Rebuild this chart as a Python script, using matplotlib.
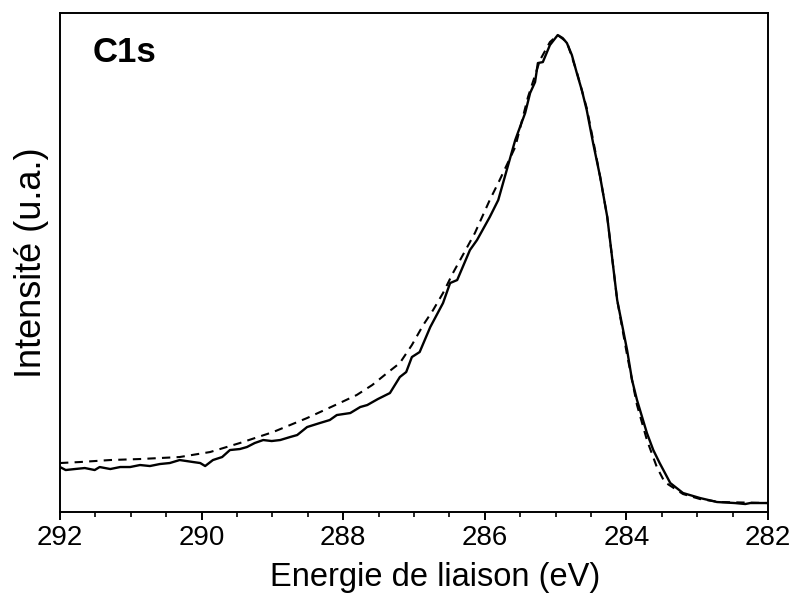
import matplotlib.pyplot as plt
from matplotlib.ticker import MultipleLocator

# binding energy (eV) and intensity (a.u.) of the measured C1s spectrum
energy_exp = [292.00, 291.92, 291.79, 291.65, 291.51, 291.44, 291.29, 291.15, 291.01, 290.87,
              290.73, 290.59, 290.45, 290.31, 290.12, 290.02, 289.95, 289.84, 289.71, 289.60,
              289.46, 289.36, 289.25, 289.13, 289.01, 288.89, 288.75, 288.65, 288.51, 288.33,
              288.19, 288.09, 287.90, 287.76, 287.66, 287.51, 287.34, 287.20, 287.11, 287.03,
              286.92, 286.77, 286.59, 286.49, 286.39, 286.21, 286.11, 285.93, 285.81, 285.69,
              285.57, 285.43, 285.36, 285.29, 285.25, 285.18, 285.08, 284.97, 284.90, 284.84,
              284.77, 284.70, 284.63, 284.56, 284.47, 284.37, 284.27, 284.13, 283.99, 283.92,
              283.85, 283.71, 283.62, 283.53, 283.38, 283.20, 282.96, 282.72, 282.47, 282.32,
              282.25, 282.01]
intensity_exp = [45, 42, 43, 44, 42, 45, 43, 45, 45, 47,
                 46, 48, 49, 52, 50, 49, 46, 52, 55, 62,
                 63, 65, 69, 72, 71, 72, 75, 77, 85, 89,
                 92, 97, 99, 105, 107, 113, 119, 135, 140, 155,
                 160, 185, 209, 229, 232, 262, 272, 295, 312, 342,
                 372, 399, 419, 430, 449, 450, 467, 477, 474, 469,
                 457, 439, 422, 402, 369, 335, 295, 212, 162, 132,
                 112, 79, 62, 49, 29, 19, 14, 10, 9, 8,
                 9, 9]

# fitted envelope (dashed)
energy_fit = [292.00, 291.72, 291.29, 290.87, 290.31, 289.88, 289.46, 288.99, 288.51, 288.05,
              287.81, 287.59, 287.38, 287.20, 287.03, 286.87, 286.73, 286.59, 286.45, 286.31,
              286.14, 285.93, 285.79, 285.57, 285.39, 285.22, 285.08, 284.97, 284.84, 284.70,
              284.56, 284.47, 284.37, 284.27, 284.13, 283.99, 283.85, 283.71, 283.57, 283.46,
              283.20, 282.96, 282.68, 282.01]
intensity_fit = [49, 50, 52, 53, 55, 60, 69, 80, 94, 109,
                 117, 127, 139, 149, 167, 187, 202, 219, 239, 257,
                 279, 312, 332, 365, 415, 452, 470, 477, 470, 440,
                 404, 372, 335, 295, 212, 157, 107, 72, 45, 30,
                 18, 13, 10, 9]

xticks = [292, 290, 288, 286, 284, 282]


def main():
    plt.rcParams["font.family"] = ["Liberation Sans", "DejaVu Sans"]
    fig = plt.figure(figsize=(7.95, 5.94), dpi=100)
    ax = fig.add_axes([0.0755, 0.138, 0.8905, 0.84])

    ax.plot(energy_exp, intensity_exp, color="black", linewidth=1.7)
    ax.plot(energy_fit, intensity_fit, color="black", linewidth=1.5,
            dashes=(4, 3))

    ax.set_xlim(292, 282)
    ax.set_ylim(0, 499)
    ax.set_xticks(xticks)
    ax.set_xticklabels([str(t) for t in xticks])
    ax.xaxis.set_minor_locator(MultipleLocator(0.5))
    ax.set_yticks([])

    ax.tick_params(axis="x", which="major", direction="out", length=6,
                   width=1.4, labelsize=20, pad=3)
    ax.tick_params(axis="x", which="minor", direction="out", length=3.5,
                   width=1.2)
    for s in ax.spines.values():
        s.set_linewidth(1.4)

    ax.set_xlabel("Energie de liaison (eV)", fontsize=23.5)
    ax.xaxis.label.set_va("baseline")
    ax.xaxis.set_label_coords(0.53, -0.1485)
    ax.set_ylabel("Intensité (u.a.)", fontsize=26, labelpad=8)

    ax.text(0.046, 0.955, "C1s", transform=ax.transAxes, fontsize=25,
            fontweight="bold", ha="left", va="top")

    fig.savefig("out.png", dpi=100)
    plt.close(fig)


if __name__ == "__main__":
    main()
